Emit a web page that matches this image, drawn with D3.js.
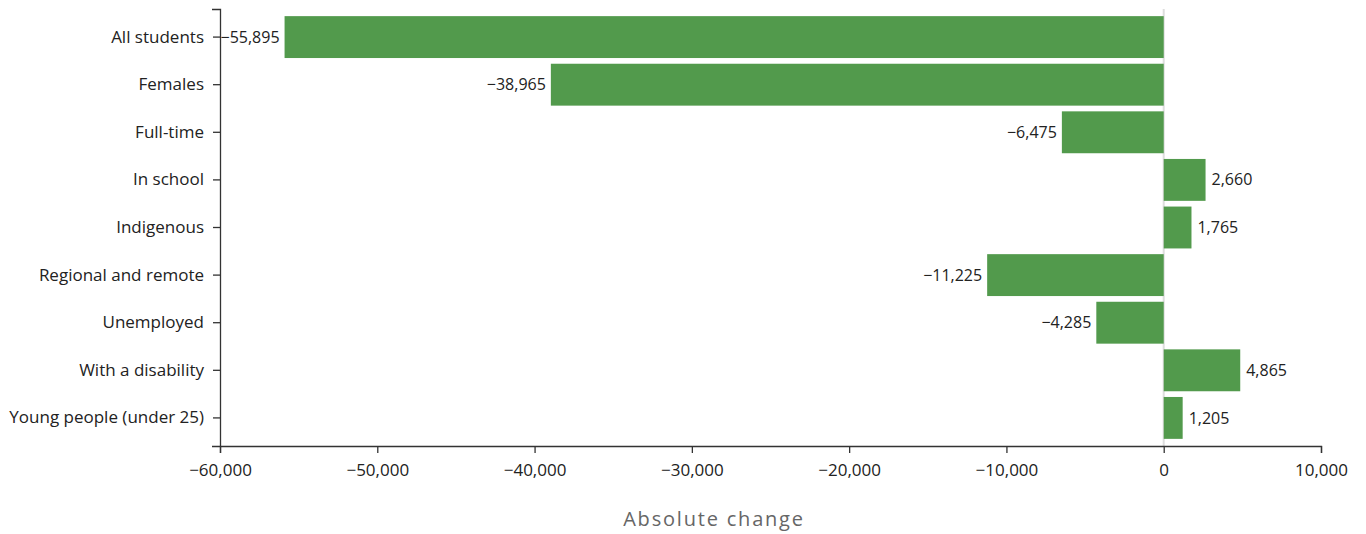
<!DOCTYPE html>
<html><head><meta charset="utf-8">
<script src="https://cdn.jsdelivr.net/npm/d3@7"></script>
<style>
body{margin:0;background:#fff;}
svg text{font-family:"Open Sans",sans-serif;}
</style></head>
<body><svg id="c" width="1366" height="534"></svg>
<script>
const categories = ["All students","Females","Full-time","In school","Indigenous","Regional and remote","Unemployed","With a disability","Young people (under 25)"];
const values = [-55895,-38965,-6475,2660,1765,-11225,-4285,4865,1205];
const xTicks = [-60000,-50000,-40000,-30000,-20000,-10000,0,10000];
const xTitle = "Absolute change";

const svg = d3.select("#c");
const x = d3.scaleLinear().domain([-60000,10000]).range([220,1321]);
const y = d3.scaleBand().domain(categories).range([9,446]).paddingInner(0.12).paddingOuter(0.15);
const fmt = v => (v<0?"\u2212":"") + d3.format(",")(Math.abs(v));

// zero line
svg.append("line").attr("x1",x(0)).attr("x2",x(0)).attr("y1",9).attr("y2",446)
  .attr("stroke","#ddd").attr("stroke-width",2);

const data = categories.map((c,i)=>({c, v:values[i]}));
svg.selectAll("rect.bar").data(data).join("rect").attr("class","bar")
  .attr("x",d=>x(Math.min(0,d.v))).attr("width",d=>Math.abs(x(d.v)-x(0)))
  .attr("y",d=>y(d.c)).attr("height",y.bandwidth()).attr("fill","#529a4c");

svg.selectAll("text.lbl").data(data).join("text").attr("class","lbl")
  .attr("x",d=>d.v<0? x(d.v)-5 : x(d.v)+6)
  .attr("y",d=>y(d.c)+y.bandwidth()/2).attr("dy","0.35em")
  .attr("text-anchor",d=>d.v<0?"end":"start")
  .attr("font-size",16).attr("fill","#222").text(d=>fmt(d.v));

const yAx = svg.append("g").attr("transform","translate(220,0)").call(d3.axisLeft(y).tickSize(7).tickSizeOuter(8));
yAx.selectAll("text").attr("font-size",17).attr("fill","#222").attr("x",-16);
yAx.selectAll("path,line").attr("stroke","#333").attr("stroke-width",1.3);

const xAx = svg.append("g").attr("transform","translate(0,446)")
  .call(d3.axisBottom(x).tickValues(xTicks).tickFormat(fmt).tickSize(7).tickSizeOuter(7));
xAx.selectAll("text").attr("font-size",17).attr("fill","#222").attr("dy","1.2em");
xAx.selectAll("path,line").attr("stroke","#333").attr("stroke-width",1.3);

svg.append("text").attr("x",714).attr("y",526).attr("text-anchor","middle")
  .attr("font-size",20).attr("fill","#666").attr("letter-spacing",1.8).text(xTitle);
</script></body></html>
